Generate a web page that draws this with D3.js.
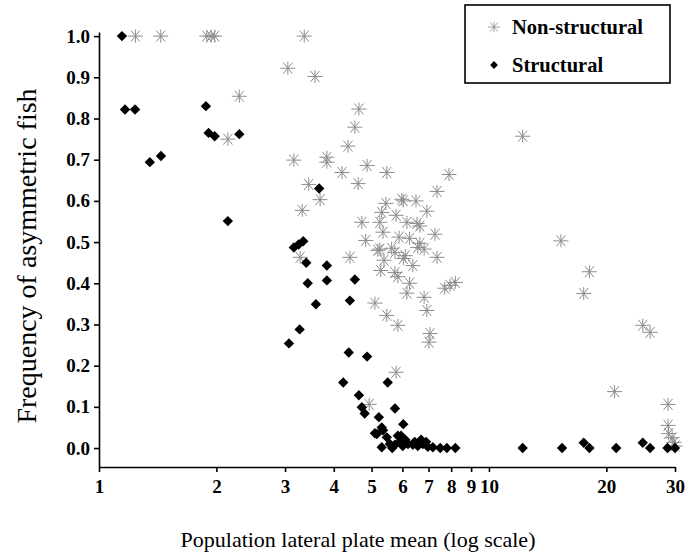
<!DOCTYPE html>
<html>
<head>
<meta charset="utf-8">
<title>Asymmetry vs lateral plates</title>
<style>
	body { margin: 0; background: #fff; }
	svg { display: block; font-family: "Liberation Serif", "Times New Roman", serif; }
	.axis path, .axis line { stroke: #000; stroke-width: 1.6px; }
	.axis text { font-size: 19px; font-weight: bold; fill: #000; font-family: "Liberation Serif", serif; }
	.ns path { fill: none; stroke: #8c8c8c; stroke-width: 1; }
	.st path { fill: #000; }
</style>
</head>
<body>
<script src="https://d3js.org/d3.v7.min.js"></script>
<script>

// Non-structural populations: lateral plate mean, frequency of asymmetric fish
var nsPlates = [1.24, 1.44, 1.89, 1.94, 1.98, 3.36, 3.05, 3.58, 2.29, 2.14, 3.16, 3.84, 3.84, 3.45, 3.69, 3.32, 3.28,
	4.64, 4.53, 4.35, 4.2, 4.87, 5.47, 7.9, 7.36, 4.62, 4.4,
	5.98, 6.5, 5.44, 6.93, 5.31, 5.78, 6.16, 5.25, 4.72, 6.65, 5.35, 7.27, 5.88, 6.26, 4.83, 6.65, 5.25, 5.63, 6.82,
	6.1, 7.36, 5.38, 6.38, 5.28, 5.74, 5.84, 6.26, 7.95, 7.7, 8.2, 6.16, 6.82, 5.1, 6.93, 5.47, 5.84, 7.06, 7.02,
	6.03, 6.54, 5.19, 6.57, 5.74, 6.03,
	5.78, 4.93, 12.2, 15.3, 18.1, 17.5, 24.8, 25.9, 21.0, 28.8, 28.8, 28.9, 29.5, 29.8, 30.0];
var nsFreq = [1.0, 1.0, 1.0, 1.0, 1.0, 1.0, 0.922, 0.902, 0.854, 0.750, 0.699, 0.706, 0.694, 0.640, 0.603, 0.577, 0.463,
	0.823, 0.779, 0.733, 0.669, 0.686, 0.669, 0.664, 0.623, 0.642, 0.463,
	0.604, 0.600, 0.594, 0.575, 0.572, 0.565, 0.548, 0.548, 0.548, 0.539, 0.524, 0.519, 0.512, 0.509, 0.504, 0.497, 0.483, 0.485, 0.483,
	0.467, 0.463, 0.456, 0.443, 0.431, 0.426, 0.416, 0.400, 0.395, 0.388, 0.402, 0.376, 0.366, 0.352, 0.334, 0.322, 0.298, 0.278, 0.257,
	0.600, 0.545, 0.480, 0.487, 0.475, 0.460,
	0.184, 0.106, 0.757, 0.503, 0.428, 0.375, 0.298, 0.281, 0.137, 0.106, 0.055, 0.035, 0.025, 0.014, 0.005];

// Structural populations
var stPlates = [1.145, 1.166, 1.237, 1.35, 1.442, 1.88, 1.91, 1.98, 2.29, 2.14, 3.67,
	3.16, 3.25, 3.34, 3.4, 3.84, 3.43, 3.84, 4.53, 3.6, 4.4, 3.27, 3.07, 4.37, 4.87, 4.23, 5.5,
	4.64, 4.72, 4.8, 5.74, 5.22, 6.03, 5.16, 5.35, 5.47, 5.31, 5.31, 5.84, 5.1,
	5.57, 5.74, 5.91, 6.01, 6.2, 6.38, 6.57, 6.77, 6.97, 7.18, 7.5, 7.8, 8.2, 5.95, 6.1, 6.45, 6.7, 5.65, 6.9,
	12.2, 15.4, 17.5, 18.1, 21.2, 24.8, 25.9, 28.7, 30.0];
var stFreq = [1.0, 0.822, 0.822, 0.694, 0.709, 0.830, 0.765, 0.757, 0.762, 0.551, 0.630,
	0.487, 0.494, 0.502, 0.450, 0.443, 0.400, 0.407, 0.409, 0.349, 0.358, 0.288, 0.254, 0.232, 0.222, 0.159, 0.159,
	0.128, 0.099, 0.084, 0.096, 0.075, 0.058, 0.034, 0.043, 0.026, 0.002, 0.050, 0.030, 0.036,
	0.010, 0.008, 0.015, 0.005, 0.010, 0.008, 0.005, 0.010, 0.003, 0.002, 0.0, 0.0, 0.0, 0.030, 0.020, 0.015, 0.020, 0.0, 0.015,
	0.0, 0.0, 0.013, 0.0, 0.0, 0.013, 0.0, 0.0, 0.0];

var xTicks = [1, 2, 3, 4, 5, 6, 7, 8, 9, 10, 20, 30];
var yTicks = [0, 0.1, 0.2, 0.3, 0.4, 0.5, 0.6, 0.7, 0.8, 0.9, 1.0];
var seriesNames = ["Non-structural", "Structural"];

var width = 692, height = 556;

var svg = d3.select("body").append("svg")
	.attr("width", width)
	.attr("height", height);

var x = d3.scaleLog().domain([1, 30]).range([99, 675]);
var y = d3.scaleLinear().domain([-0.046, 1.01]).range([467, 32]);

// star marker (asterisk with horizontal bar) and diamond
var starPath = "M-7.5,0H7.5M0,-6.5V6.5M-4.5,-5.5L4.5,5.5M-4.5,5.5L4.5,-5.5";
var diamondPath = "M0,-5.2L5.2,0L0,5.2L-5.2,0Z";

// axes
svg.append("g")
	.attr("class", "axis")
	.attr("transform", "translate(99,0)")
	.call(d3.axisLeft(y).tickValues(yTicks).tickSize(5).tickSizeOuter(0).tickPadding(4).tickFormat(d3.format(".1f")));

svg.append("g")
	.attr("class", "axis")
	.attr("transform", "translate(0,467)")
	.call(d3.axisBottom(x).tickValues(xTicks).tickSize(5).tickSizeOuter(0).tickPadding(8).tickFormat(d3.format("d")));

// points
svg.append("g").attr("class", "ns")
	.selectAll("path")
	.data(d3.range(nsPlates.length))
	.enter().append("path")
	.attr("d", starPath)
	.attr("transform", function(i) { return "translate(" + x(nsPlates[i]) + "," + y(nsFreq[i]) + ")"; });

svg.append("g").attr("class", "st")
	.selectAll("path")
	.data(d3.range(stPlates.length))
	.enter().append("path")
	.attr("d", diamondPath)
	.attr("transform", function(i) { return "translate(" + x(stPlates[i]) + "," + y(stFreq[i]) + ")"; });

// axis titles
svg.append("text")
	.attr("transform", "translate(36,256) rotate(-90)")
	.attr("text-anchor", "middle")
	.style("font-size", "28px")
	.text("Frequency of asymmetric fish");

svg.append("text")
	.attr("x", 358)
	.attr("y", 547)
	.attr("text-anchor", "middle")
	.style("font-size", "22px")
	.text("Population lateral plate mean (log scale)");

// legend
var legend = svg.append("g").attr("transform", "translate(465,5)");
legend.append("rect")
	.attr("width", 205).attr("height", 78)
	.attr("fill", "#fff").attr("stroke", "#000").attr("stroke-width", 1.6);

legend.append("path").attr("d", starPath).attr("transform", "translate(29,22) scale(0.8)")
	.attr("fill", "none").attr("stroke", "#8c8c8c");
legend.append("path").attr("d", diamondPath).attr("transform", "translate(29,60) scale(0.75)")
	.attr("fill", "#000");

legend.selectAll("text.lab")
	.data(seriesNames)
	.enter().append("text")
	.attr("class", "lab")
	.attr("x", 47)
	.attr("y", function(d, i) { return 29 + i * 38; })
	.style("font-size", "20.5px")
	.style("font-weight", "bold")
	.text(function(d) { return d; });

</script>
</body>
</html>
